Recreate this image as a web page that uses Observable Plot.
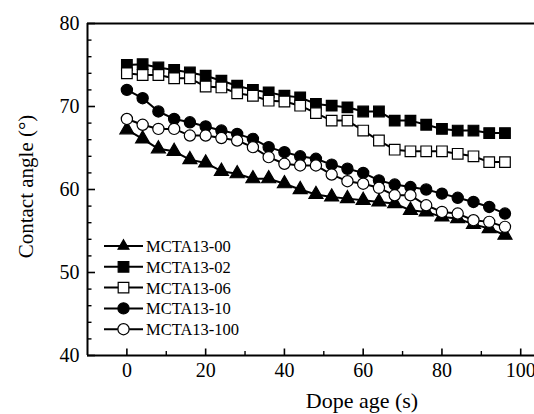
<!DOCTYPE html>
<html>
<head>
<meta charset="utf-8">
<script src="https://cdn.jsdelivr.net/npm/d3@7"></script>
<script src="https://cdn.jsdelivr.net/npm/@observablehq/plot@0.6"></script>
<style>
  html, body { margin: 0; padding: 0; background: #fff; }
  #wrap { position: relative; width: 534px; height: 414px; overflow: hidden; }
  #wrap svg { position: absolute; left: 0; top: 0; }
</style>
</head>
<body>
<div id="wrap"></div>
<script>
// ---- data ----
const ages = [0, 4, 8, 12, 16, 20, 24, 28, 32, 36, 40, 44, 48, 52, 56, 60, 64, 68, 72, 76, 80, 84, 88, 92, 96];
const seriesNames = ["MCTA13-00", "MCTA13-02", "MCTA13-06", "MCTA13-10", "MCTA13-100"];
const mcta00  = [67.2, 66.1, 64.9, 64.6, 63.6, 63.2, 62.2, 61.9, 61.3, 61.3, 60.7, 60.0, 59.4, 59.1, 58.9, 58.7, 58.5, 58.3, 57.5, 57.3, 56.7, 56.5, 55.8, 55.3, 54.5];
const mcta02  = [75.0, 75.1, 74.7, 74.4, 74.1, 73.7, 73.1, 72.5, 72.0, 71.7, 71.3, 71.1, 70.3, 70.1, 69.9, 69.4, 69.4, 68.3, 68.3, 67.8, 67.3, 67.1, 67.1, 66.8, 66.8];
const mcta06  = [74.0, 73.8, 73.8, 73.4, 73.4, 72.4, 72.3, 71.6, 71.3, 70.7, 70.6, 70.1, 69.2, 68.3, 68.3, 67.1, 65.9, 64.8, 64.6, 64.6, 64.6, 64.3, 64.0, 63.3, 63.3];
const mcta10  = [72.0, 71.0, 69.4, 68.5, 68.1, 67.6, 67.1, 66.7, 66.1, 65.1, 64.5, 64.0, 63.7, 63.0, 62.5, 62.0, 61.1, 60.6, 60.3, 60.0, 59.5, 59.0, 58.5, 57.9, 57.1];
const mcta100 = [68.5, 67.8, 67.3, 67.3, 66.5, 66.5, 66.2, 65.9, 65.1, 63.9, 63.1, 62.9, 62.9, 61.8, 61.0, 60.7, 60.2, 59.3, 59.3, 58.1, 57.3, 57.1, 56.3, 56.1, 55.5];
const xTickLabels = [0, 20, 40, 60, 80, 100];
const xMinorTicks = [10, 30, 50, 70, 90];
const yTickLabels = [40, 50, 60, 70, 80];
const yMinorTicks = [42, 44, 46, 48, 52, 54, 56, 58, 62, 64, 66, 68, 72, 74, 76, 78];

// ---- styles ----
const styles = [
  {symbol: "triangle", fill: "black", r: 5.2},
  {symbol: "square",   fill: "black", r: 6.0},
  {symbol: "square",   fill: "white", r: 6.0},
  {symbol: "circle",   fill: "black", r: 5.6},
  {symbol: "circle",   fill: "white", r: 5.6}
];
const allValues = [mcta00, mcta02, mcta06, mcta10, mcta100];

const W = 534, H = 414;
const mL = 87, mR = 0, mT = 23, mB = 59;
const frameW = W - mL - mR, frameH = H - mT - mB;

const rows = [];
allValues.forEach((vals, si) => vals.forEach((v, i) => rows.push({series: seriesNames[si], si, age: ages[i], angle: v})));

const marks = [];
seriesNames.forEach((name, si) => {
  const d = rows.filter(r => r.si === si);
  marks.push(Plot.line(d, {x: "age", y: "angle", stroke: "black", strokeWidth: 2}));
});
seriesNames.forEach((name, si) => {
  const d = rows.filter(r => r.si === si);
  const s = styles[si];
  marks.push(Plot.dot(d, {x: "age", y: "angle", symbol: s.symbol, r: s.r, fill: s.fill, stroke: "black", strokeWidth: 1.2}));
});

// frame lines (left, bottom, top)
marks.push(Plot.ruleX([-10], {stroke: "black", strokeWidth: 2}));
marks.push(Plot.ruleY([40, 80], {stroke: "black", strokeWidth: 2}));
// inward ticks
marks.push(Plot.tickY(yTickLabels, {y: d => d, insetRight: frameW - 8, stroke: "black", strokeWidth: 1.6}));
marks.push(Plot.tickY(yMinorTicks, {y: d => d, insetRight: frameW - 4.5, stroke: "black", strokeWidth: 1.4}));
marks.push(Plot.tickX(xTickLabels, {x: d => d, insetTop: frameH - 6.5, stroke: "black", strokeWidth: 1.6}));
marks.push(Plot.tickX(xMinorTicks, {x: d => d, insetTop: frameH - 4, stroke: "black", strokeWidth: 1.4}));
// axes labels
marks.push(Plot.axisX({ticks: xTickLabels, tickSize: 0, tickPadding: 7, label: null, fontSize: 20}));
marks.push(Plot.axisY({ticks: yTickLabels, tickSize: 0, tickPadding: 8, label: null, fontSize: 20}));
// axis titles
marks.push(Plot.text(["Dope age (s)"], {text: d => d, frameAnchor: "bottom", dx: 51, dy: 45, fontSize: 22, textAnchor: "middle", lineAnchor: "middle"}));
marks.push(Plot.text(["Contact angle (°)"], {text: d => d, frameAnchor: "left", dx: -61, dy: -3, rotate: -90, fontSize: 21, textAnchor: "middle", lineAnchor: "middle"}));

const chart = Plot.plot({
  width: W, height: H,
  marginLeft: mL, marginRight: mR, marginTop: mT, marginBottom: mB,
  x: {domain: [-10, 103.5]},
  y: {domain: [40, 80]},
  style: {fontFamily: "'Liberation Serif', 'Times New Roman', serif", fontSize: "20px", color: "black", background: "white", overflow: "visible"},
  marks
});
const wrap = document.getElementById("wrap");
wrap.appendChild(chart);

// ---- legend overlay ----
const lg = d3.select(wrap).append("svg")
  .attr("width", W).attr("height", H)
  .style("pointer-events", "none")
  .style("font-family", "'Liberation Serif', 'Times New Roman', serif");
const symMap = {triangle: d3.symbolTriangle2, square: d3.symbolSquare, circle: d3.symbolCircle};
const lx0 = 104, lx1 = 143, lmx = 123.5, ltx = 146, ly0 = 246, ldy = 20.8;
seriesNames.forEach((name, i) => {
  const y = ly0 + i * ldy;
  const s = styles[i];
  lg.append("line").attr("x1", lx0).attr("x2", lx1).attr("y1", y).attr("y2", y)
    .attr("stroke", "black").attr("stroke-width", 2);
  lg.append("path")
    .attr("d", d3.symbol(symMap[s.symbol], Math.PI * s.r * s.r)())
    .attr("transform", `translate(${lmx},${y})`)
    .attr("fill", s.fill).attr("stroke", "black").attr("stroke-width", 1.2);
  lg.append("text").attr("x", ltx).attr("y", y).attr("dy", "0.36em")
    .attr("font-size", 16.5).attr("fill", "black").text(name);
});
</script>
</body>
</html>
